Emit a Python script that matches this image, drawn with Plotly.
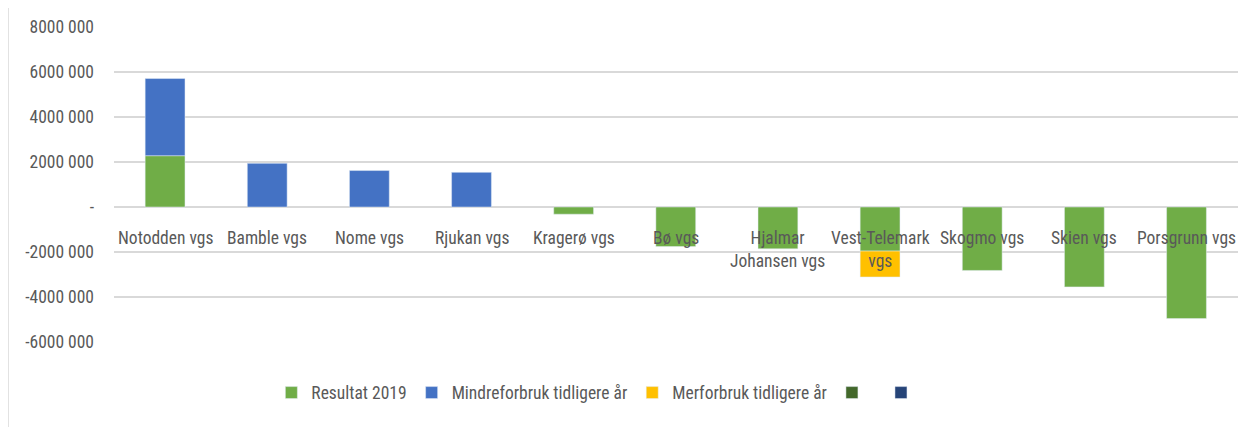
import plotly.graph_objects as go

categories = ["Notodden vgs", "Bamble vgs", "Nome vgs", "Rjukan vgs", "Kragerø vgs",
              "Bø vgs", "Hjalmar<br>Johansen vgs", "Vest-Telemark<br>vgs", "Skogmo vgs",
              "Skien vgs", "Porsgrunn vgs"]
resultat_2019 = [2280000, None, None, None, -320000, -1760000, -1860000, -1960000,
                 -2820000, -3550000, -4960000]
mindreforbruk = [3430000, 1940000, 1620000, 1540000, None, None, None, None, None, None, None]
merforbruk = [None, None, None, None, None, None, None, -1150000, None, None, None]
empty_series = [None] * len(categories)

tick_vals = [8000000, 6000000, 4000000, 2000000, 0, -2000000, -4000000, -6000000]
tick_text = ["8000 000", "6000 000", "4000 000", "2000 000", "-", "-2000 000", "-4000 000", "-6000 000"]

FONT = "Liberation Sans Narrow, Roboto Condensed, Open Sans, sans-serif"
GREY = "#595959"
FS = 17.5

fig = go.Figure()
fig.add_bar(x=categories, y=resultat_2019, name="Resultat 2019", marker_color="#70AD47")
fig.add_bar(x=categories, y=mindreforbruk, name="Mindreforbruk tidligere år", marker_color="#4472C4")
fig.add_bar(x=categories, y=merforbruk, name="Merforbruk tidligere år", marker_color="#FFC000")
fig.add_bar(x=categories, y=empty_series, name=" ", marker_color="#43682B", showlegend=True)
fig.add_bar(x=categories, y=empty_series, name=" ", marker_color="#264478", showlegend=True)

for c in categories:
    fig.add_annotation(x=c, y=0, xref="x", yref="y", text=c, showarrow=False,
                       yanchor="top", yshift=-19, font=dict(family=FONT, size=FS, color=GREY),
                       align="center")

fig.add_shape(type="line", xref="paper", yref="paper", x0=-0.0943, x1=-0.0943,
              y0=-0.27, y1=1.06, line=dict(color="#D9D9D9", width=1.5))

fig.update_layout(
    width=1239, height=419,
    margin=dict(l=106, r=9, t=17, b=85),
    paper_bgcolor="white", plot_bgcolor="white",
    barmode="relative", bargap=0.61,
    font=dict(family=FONT, size=FS, color=GREY),
    xaxis=dict(showticklabels=False, showgrid=False, zeroline=False, showline=False),
    yaxis=dict(range=[-6000000, 8000000], tickvals=tick_vals, ticktext=tick_text,
               showgrid=True, gridcolor="#D9D9D9", gridwidth=1.5, zeroline=False,
               showline=False, ticks="", ticklen=0, ticklabelstandoff=19,
               tickfont=dict(family=FONT, size=FS, color=GREY)),
    legend=dict(orientation="h", x=0.14, xanchor="left", y=-0.161, yanchor="middle",
                font=dict(family=FONT, size=FS, color=GREY), itemwidth=30,
                traceorder="normal"),
    showlegend=True,
)

fig.write_html("out.html")
